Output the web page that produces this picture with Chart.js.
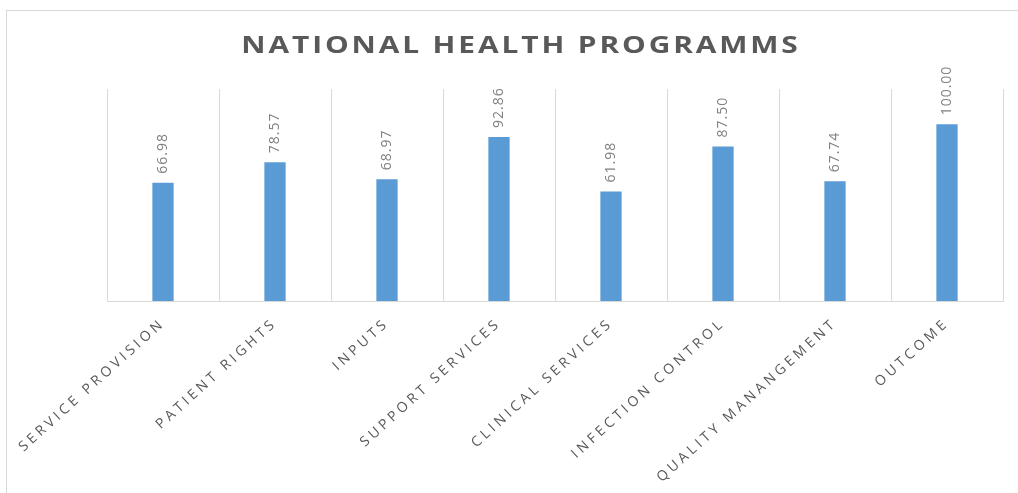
<!DOCTYPE html>
<html>
<head>
<meta charset="utf-8">
<title>National Health Programms</title>
<script src="https://cdn.jsdelivr.net/npm/chart.js@4.4.1/dist/chart.umd.min.js"></script>
<style>
  body { margin: 0; background: #fff; }
  #wrap {
    position: absolute; left: 6px; top: 10px;
    width: 1012px; height: 482px;
    border-left: 1px solid #d9d9d9; border-top: 1px solid #d9d9d9;
  }
</style>
</head>
<body>
<div id="wrap"><canvas id="myChart" width="1012" height="482"></canvas></div>
<script>
const chartTitle = 'NATIONAL HEALTH PROGRAMMS';
const categories = [
  'SERVICE PROVISION', 'PATIENT RIGHTS', 'INPUTS', 'SUPPORT SERVICES',
  'CLINICAL SERVICES', 'INFECTION CONTROL', 'QUALITY MANANGEMENT', 'OUTCOME'
];
const scores = [66.98, 78.57, 68.97, 92.86, 61.98, 87.50, 67.74, 100.00];
const yMin = 0;
const yMax = 120;

// title + value labels; letter spacing is set on the canvas state
const textPlugin = {
  id: 'textPlugin',
  beforeDraw(chart) {
    const ctx = chart.ctx;
    ctx.save();
    ctx.letterSpacing = '2.2px';
    ctx.font = 'bold 23px "Open Sans"';
    ctx.fillStyle = '#595959';
    ctx.textAlign = 'center';
    ctx.textBaseline = 'alphabetic';
    ctx.translate(chart.width / 2 + 8, 42);
    ctx.scale(1.3, 1); // the original title is drawn wide
    ctx.fillText(chartTitle, 0, 0);
    ctx.restore();
  },
  afterDatasetsDraw(chart) {
    const ctx = chart.ctx;
    const meta = chart.getDatasetMeta(0);
    ctx.save();
    ctx.letterSpacing = '1px';
    ctx.font = '14px "Open Sans"';
    ctx.fillStyle = '#808080';
    ctx.textAlign = 'left';
    ctx.textBaseline = 'middle';
    meta.data.forEach((bar, i) => {
      ctx.save();
      ctx.translate(bar.x, bar.y - 9);
      ctx.rotate(-Math.PI / 2);
      ctx.fillText(scores[i].toFixed(2), 0, 0);
      ctx.restore();
    });
    ctx.restore();
    // category labels are drawn after this (ticks z = 1)
    ctx.letterSpacing = '3.6px';
  },
  afterDraw(chart) {
    chart.ctx.letterSpacing = '0px';
  }
};

new Chart(document.getElementById('myChart'), {
  type: 'bar',
  data: {
    labels: categories,
    datasets: [{
      data: scores,
      backgroundColor: '#5b9bd5',
      borderWidth: 0,
      categoryPercentage: 1,
      barPercentage: 0.19
    }]
  },
  options: {
    responsive: false,
    animation: false,
    devicePixelRatio: 1,
    layout: { padding: { left: 100, right: 16, top: 78, bottom: 0 } },
    plugins: {
      legend: { display: false },
      tooltip: { enabled: false }
    },
    scales: {
      x: {
        grid: { color: '#d9d9d9', drawTicks: false, offset: true },
        border: { color: '#d9d9d9' },
        ticks: {
          z: 1,
          color: '#595959',
          font: { family: '"Open Sans"', size: 14 },
          minRotation: 42,
          maxRotation: 42,
          padding: 14
        },
        afterFit(axis) { axis.height = 192; }
      },
      y: {
        display: false,
        min: yMin,
        max: yMax
      }
    }
  },
  plugins: [textPlugin]
});
</script>
</body>
</html>
